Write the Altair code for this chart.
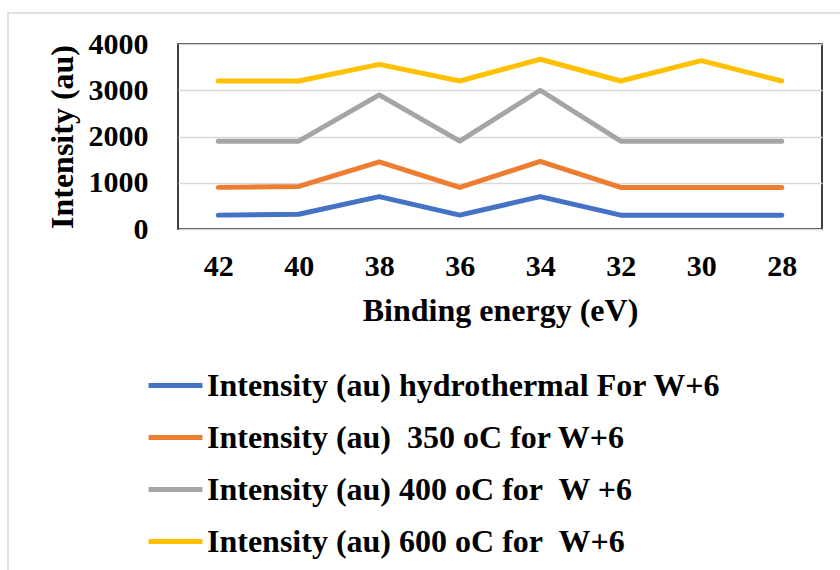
import altair as alt
import pandas as pd

energies = [42, 40, 38, 36, 34, 32, 30, 28]
series_names = [
    "Intensity (au) hydrothermal For W+6",
    "Intensity (au) \u00a0350 oC for W+6",
    "Intensity (au) 400 oC for \u00a0W +6",
    "Intensity (au) 600 oC for \u00a0W+6",
]
hydro = [300, 320, 700, 300, 700, 300, 300, 300]
c350 = [900, 920, 1450, 900, 1460, 900, 900, 900]
c400 = [1900, 1900, 2900, 1900, 3000, 1900, 1900, 1900]
c600 = [3200, 3200, 3560, 3200, 3670, 3200, 3640, 3200]
colors = ["#4472C4", "#ED7D31", "#A5A5A5", "#FFC000"]
y_ticks = [0, 1000, 2000, 3000, 4000]

rows = []
for name, vals in zip(series_names, [hydro, c350, c400, c600]):
    for e, v in zip(energies, vals):
        rows.append({"energy": e, "intensity": v, "series": name})
df = pd.DataFrame(rows)

FONT = "Liberation Serif"

lines = alt.Chart(df).mark_line(strokeWidth=5, strokeCap="round", strokeJoin="round").encode(
    x=alt.X("energy:O", sort="descending", title="Binding energy (eV)",
            axis=alt.Axis(labelAngle=0, ticks=False, domain=False, grid=False,
                          labelPadding=22, titlePadding=14)),
    y=alt.Y("intensity:Q", scale=alt.Scale(domain=[0, 4000], nice=False),
            title="Intensity (au)",
            axis=alt.Axis(values=y_ticks, format="d", ticks=False, domain=False, grid=True,
                          gridColor="#d9d9d9", gridWidth=1.5,
                          labelPadding=30, titlePadding=9)),
    color=alt.Color("series:N", scale=alt.Scale(domain=series_names, range=colors),
                    legend=alt.Legend(title=None, orient="none", legendX=-32, legendY=312,
                                      direction="vertical", symbolType="stroke",
                                      symbolSize=2900, symbolStrokeWidth=5,
                                      labelFont=FONT, labelFontSize=32, labelFontWeight="bold",
                                      labelColor="black", labelLimit=0, labelOffset=2,
                                      rowPadding=6)),
)

border = alt.Chart(pd.DataFrame({"a": [0]})).mark_rect(
    fill=None, stroke="#d9d9d9", strokeWidth=1.5
).encode(x=alt.value(-170), y=alt.value(-31), x2=alt.value(680), y2=alt.value(540))

chart = alt.layer(border, lines).properties(
    width=644, height=185,
    autosize=alt.AutoSizeParams(type="none"),
    padding={"left": 178, "top": 44, "right": 18, "bottom": 341},
).configure_view(
    stroke="black", strokeWidth=1.5
).configure_axis(
    labelFont=FONT, labelFontSize=30, labelFontWeight="bold", labelColor="black",
    titleFont=FONT, titleFontSize=32, titleFontWeight="bold", titleColor="black",
)

chart.save("out.html", embed_options={"renderer": "svg", "actions": False})
